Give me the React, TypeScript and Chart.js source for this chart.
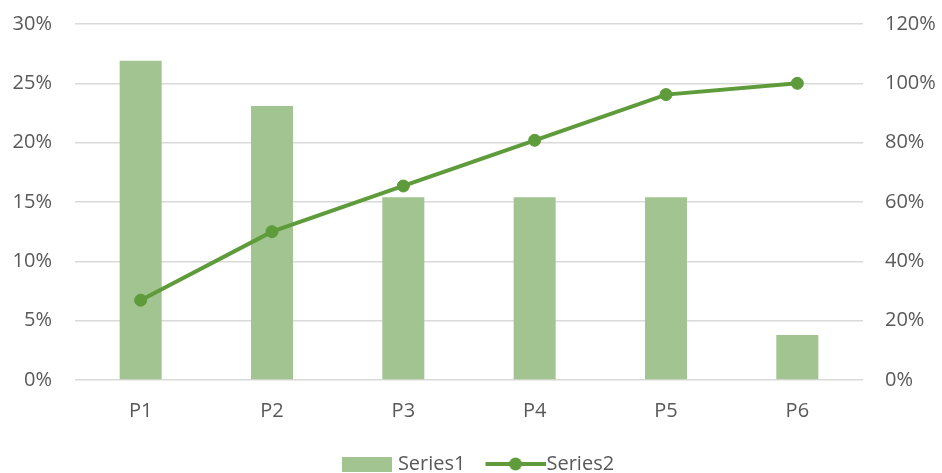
import React, { useEffect, useRef } from "react";
import { Chart, registerables } from "chart.js";

Chart.register(...registerables);

const categories = ["P1", "P2", "P3", "P4", "P5", "P6"];
const series1 = [0.269, 0.231, 0.154, 0.154, 0.154, 0.038];
const series2 = [0.269, 0.5, 0.654, 0.808, 0.962, 1.0];
const seriesNames = ["Series1", "Series2"];

const BAR_COLOR = "#a2c490";
const LINE_COLOR = "#5e9b3b";
const TEXT_COLOR = "#595959";
const GRID_COLOR = "#d9d9d9";
const FONT = "'Open Sans', sans-serif";
const FS = 20;
const PSW = 60; // legend point-style slot width

// Bar icon: wider than the slot, bar drawn at its right end (transparent on left)
function makeBarIcon(): HTMLCanvasElement {
  const w = PSW + 8;
  const c = document.createElement("canvas");
  c.width = w;
  c.height = 15;
  const ctx = c.getContext("2d")!;
  ctx.fillStyle = BAR_COLOR;
  ctx.fillRect(w - 50, 0, 50, 15);
  return c;
}

function makeLineIcon(): HTMLCanvasElement {
  const w = PSW + 18;
  const c = document.createElement("canvas");
  c.width = w;
  c.height = 14;
  const ctx = c.getContext("2d")!;
  const x0 = w - 60;
  ctx.strokeStyle = LINE_COLOR;
  ctx.lineWidth = 4;
  ctx.beginPath();
  ctx.moveTo(x0, 7);
  ctx.lineTo(w, 7);
  ctx.stroke();
  ctx.fillStyle = LINE_COLOR;
  ctx.beginPath();
  ctx.arc(x0 + 30, 7, 6.5, 0, Math.PI * 2);
  ctx.fill();
  return c;
}

export default function App() {
  const ref = useRef<HTMLCanvasElement | null>(null);

  useEffect(() => {
    if (!ref.current) return;
    const barIcon = makeBarIcon();
    const lineIcon = makeLineIcon();
    const pct = (v: any) => `${Math.round(Number(v) * 100)}%`;
    const chart = new Chart(ref.current, {
      type: "bar",
      data: {
        labels: categories,
        datasets: [
          {
            type: "line",
            label: seriesNames[1],
            data: series2,
            yAxisID: "y1",
            borderColor: LINE_COLOR,
            backgroundColor: LINE_COLOR,
            borderWidth: 4,
            pointRadius: 6,
            pointBorderWidth: 1,
            pointBackgroundColor: LINE_COLOR,
            pointBorderColor: LINE_COLOR,
            tension: 0,
            order: 0,
          } as any,
          {
            type: "bar",
            label: seriesNames[0],
            data: series1,
            yAxisID: "y",
            backgroundColor: BAR_COLOR,
            categoryPercentage: 1,
            barPercentage: 0.32,
            order: 1,
          } as any,
        ],
      },
      options: {
        animation: false,
        responsive: true,
        maintainAspectRatio: false,
        layout: { padding: { top: 0, left: 0, right: 0, bottom: -11 } },
        plugins: {
          tooltip: { enabled: false },
          legend: {
            position: "bottom",
            labels: {
              usePointStyle: true,
              pointStyleWidth: PSW,
              color: TEXT_COLOR,
              font: { family: FONT, size: FS },
              padding: 11,
              generateLabels: () => [
                {
                  text: seriesNames[0],
                  pointStyle: barIcon as any,
                  fillStyle: BAR_COLOR,
                  strokeStyle: BAR_COLOR,
                  lineWidth: 0,
                  hidden: false,
                  datasetIndex: 1,
                  fontColor: TEXT_COLOR,
                },
                {
                  text: seriesNames[1],
                  pointStyle: lineIcon as any,
                  fillStyle: LINE_COLOR,
                  strokeStyle: LINE_COLOR,
                  lineWidth: 0,
                  hidden: false,
                  datasetIndex: 0,
                  fontColor: TEXT_COLOR,
                },
              ],
            },
          },
        },
        scales: {
          x: {
            grid: { display: false },
            border: { display: false },
            afterFit: (s: any) => {
              s.height = s.height + 9;
            },
            ticks: {
              color: TEXT_COLOR,
              font: { family: FONT, size: FS },
              padding: 11,
            },
          },
          y: {
            position: "left",
            min: 0,
            max: 0.3,
            afterFit: (s: any) => {
              s.width = 75;
              s.paddingTop = 24;
            },
            ticks: {
              stepSize: 0.05,
              color: TEXT_COLOR,
              font: { family: FONT, size: FS },
              padding: 23,
              callback: pct,
            },
            grid: { color: GRID_COLOR, lineWidth: 1.5, drawTicks: false },
            border: { display: false },
          },
          y1: {
            position: "right",
            min: 0,
            max: 1.2,
            afterFit: (s: any) => {
              s.width = 79;
              s.paddingTop = 24;
            },
            ticks: {
              stepSize: 0.2,
              color: TEXT_COLOR,
              font: { family: FONT, size: FS },
              padding: 22,
              callback: pct,
            },
            grid: { drawOnChartArea: false, drawTicks: false },
            border: { display: false },
          },
        },
      },
    });
    return () => chart.destroy();
  }, []);

  return (
    <div style={{ position: "fixed", left: 0, top: 0, width: 942, height: 473, background: "#fff" }}>
      <canvas ref={ref} />
    </div>
  );
}
